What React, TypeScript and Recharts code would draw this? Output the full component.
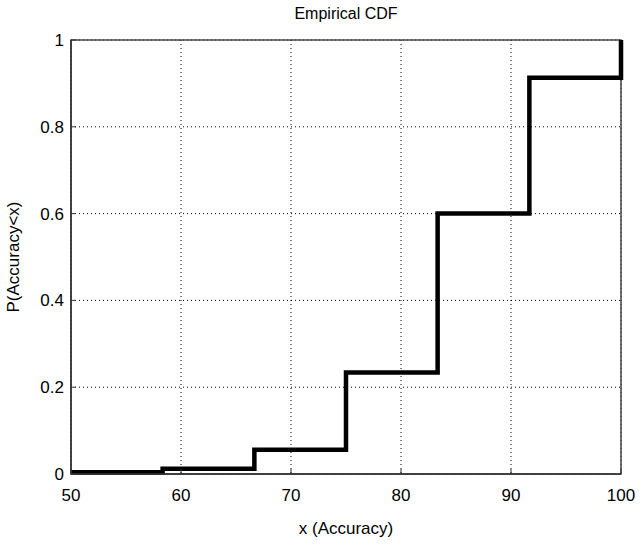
import { LineChart, Line, XAxis, YAxis, CartesianGrid, Label, ReferenceArea } from 'recharts';

const accuracy = [50, 58.33, 66.67, 75, 83.33, 91.67, 100];
const probability = [0.004, 0.012, 0.056, 0.234, 0.6, 0.913, 1];
const xTicks = [50, 60, 70, 80, 90, 100];
const yTicks = [0, 0.2, 0.4, 0.6, 0.8, 1];

const data = accuracy.map((x, i) => ({ x, p: probability[i] }));

const font = 'Liberation Sans, Arial, Helvetica, sans-serif';
const tickStyle = { fontSize: 17, fill: '#000', fontFamily: font };

export default function App() {
  return (
    <div style={{ position: 'absolute', left: 0, top: 0, background: '#fff' }}>
      <LineChart
        width={640}
        height={545}
        data={data}
        margin={{ top: 40, right: 19, bottom: 21, left: 21 }}
      >
        <text x={346} y={19} textAnchor="middle" fontSize={16} fontFamily={font} fill="#000">
          Empirical CDF
        </text>
        <CartesianGrid
          xAxisId="b"
          yAxisId="l"
          stroke="#000"
          strokeDasharray="1 3"
          strokeWidth={1}
        />
        <XAxis
          xAxisId="b"
          dataKey="x"
          type="number"
          domain={[50, 100]}
          ticks={xTicks}
          height={50}
          tick={tickStyle}
          tickSize={-5}
          tickMargin={20}
          axisLine={{ stroke: '#333', strokeWidth: 1.5 }}
          tickLine={{ stroke: '#333' }}
        >
          <Label value="x (Accuracy)" position="insideBottom" offset={-10} style={tickStyle} />
        </XAxis>
        <XAxis
          xAxisId="t"
          orientation="top"
          dataKey="x"
          type="number"
          domain={[50, 100]}
          ticks={xTicks}
          height={0}
          tick={false}
          tickSize={-5}
          axisLine={{ stroke: '#333', strokeWidth: 1.5 }}
          tickLine={{ stroke: '#333' }}
        />
        <YAxis
          yAxisId="l"
          type="number"
          domain={[0, 1]}
          ticks={yTicks}
          width={50}
          tick={tickStyle}
          tickSize={-5}
          tickMargin={12}
          axisLine={{ stroke: '#333', strokeWidth: 1.5 }}
          tickLine={{ stroke: '#333' }}
        >
          <Label
            value="P(Accuracy<x)"
            angle={-90}
            position="insideLeft"
            offset={-8}
            style={{ ...tickStyle, textAnchor: 'middle' }}
          />
        </YAxis>
        <YAxis
          yAxisId="r"
          orientation="right"
          type="number"
          domain={[0, 1]}
          ticks={yTicks}
          width={0}
          tick={false}
          tickSize={-5}
          axisLine={{ stroke: '#333', strokeWidth: 1.5 }}
          tickLine={{ stroke: '#333' }}
        />
        <ReferenceArea
          xAxisId="b"
          yAxisId="l"
          x1={xTicks[0]}
          x2={xTicks[xTicks.length - 1]}
          y1={yTicks[0]}
          y2={yTicks[yTicks.length - 1]}
          fill="none"
          fillOpacity={0}
          stroke="#444"
          strokeWidth={1.5}
        />
        <Line
          xAxisId="b"
          yAxisId="l"
          type="stepAfter"
          dataKey="p"
          stroke="#000"
          strokeWidth={4.5}
          dot={false}
          isAnimationActive={false}
        />
      </LineChart>
    </div>
  );
}
